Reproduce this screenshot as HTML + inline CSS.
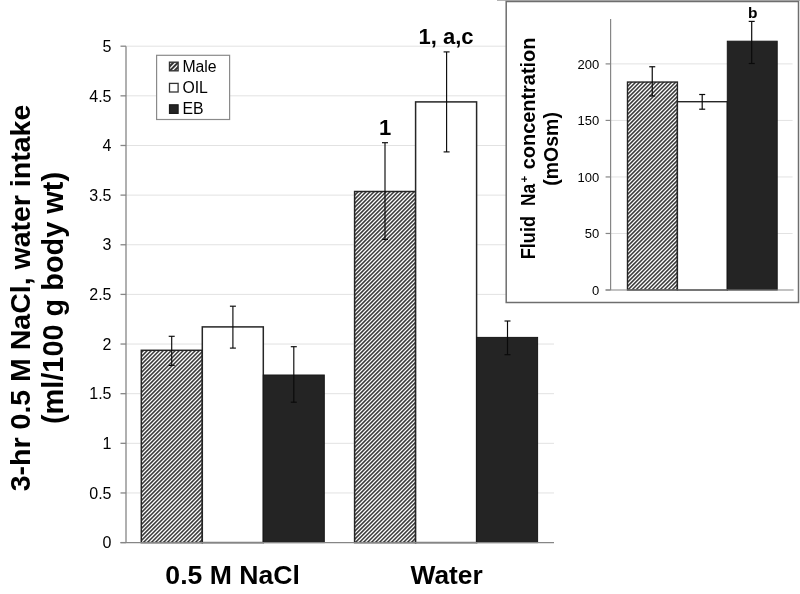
<!DOCTYPE html>
<html><head><meta charset="utf-8"><style>
html,body{margin:0;padding:0;background:#fff;width:800px;height:594px;overflow:hidden}
svg{display:block;filter:blur(0.35px)}
text{font-family:"Liberation Sans",sans-serif;fill:#000;white-space:pre}
</style></head><body>
<svg width="800" height="594" viewBox="0 0 800 594">
<defs><clipPath id="c0"><rect x="141.30" y="350.30" width="61.00" height="192.30"/></clipPath><clipPath id="c1"><rect x="354.60" y="191.50" width="61.00" height="351.10"/></clipPath><clipPath id="lm"><rect x="169.5" y="62.2" width="8.6" height="8.6"/></clipPath><clipPath id="c3"><rect x="627.50" y="82.05" width="49.90" height="207.95"/></clipPath></defs>
<line x1="126.0" y1="492.96" x2="554.0" y2="492.96" stroke="#e2e2e2" stroke-width="1"/>
<line x1="126.0" y1="443.32" x2="554.0" y2="443.32" stroke="#e2e2e2" stroke-width="1"/>
<line x1="126.0" y1="393.68" x2="554.0" y2="393.68" stroke="#e2e2e2" stroke-width="1"/>
<line x1="126.0" y1="344.04" x2="554.0" y2="344.04" stroke="#e2e2e2" stroke-width="1"/>
<line x1="126.0" y1="294.40" x2="554.0" y2="294.40" stroke="#e2e2e2" stroke-width="1"/>
<line x1="126.0" y1="244.76" x2="554.0" y2="244.76" stroke="#e2e2e2" stroke-width="1"/>
<line x1="126.0" y1="195.12" x2="554.0" y2="195.12" stroke="#e2e2e2" stroke-width="1"/>
<line x1="126.0" y1="145.48" x2="554.0" y2="145.48" stroke="#e2e2e2" stroke-width="1"/>
<line x1="126.0" y1="95.84" x2="554.0" y2="95.84" stroke="#e2e2e2" stroke-width="1"/>
<line x1="126.0" y1="46.20" x2="554.0" y2="46.20" stroke="#e2e2e2" stroke-width="1"/>
<rect x="141.30" y="350.30" width="61.00" height="192.30" fill="#fff"/><g clip-path="url(#c0)" stroke="#3c3c3c" stroke-width="1.5"><line x1="-54.70" y1="544.60" x2="141.60" y2="348.30"/><line x1="-50.70" y1="544.60" x2="145.60" y2="348.30"/><line x1="-46.70" y1="544.60" x2="149.60" y2="348.30"/><line x1="-42.70" y1="544.60" x2="153.60" y2="348.30"/><line x1="-38.70" y1="544.60" x2="157.60" y2="348.30"/><line x1="-34.70" y1="544.60" x2="161.60" y2="348.30"/><line x1="-30.70" y1="544.60" x2="165.60" y2="348.30"/><line x1="-26.70" y1="544.60" x2="169.60" y2="348.30"/><line x1="-22.70" y1="544.60" x2="173.60" y2="348.30"/><line x1="-18.70" y1="544.60" x2="177.60" y2="348.30"/><line x1="-14.70" y1="544.60" x2="181.60" y2="348.30"/><line x1="-10.70" y1="544.60" x2="185.60" y2="348.30"/><line x1="-6.70" y1="544.60" x2="189.60" y2="348.30"/><line x1="-2.70" y1="544.60" x2="193.60" y2="348.30"/><line x1="1.30" y1="544.60" x2="197.60" y2="348.30"/><line x1="5.30" y1="544.60" x2="201.60" y2="348.30"/><line x1="9.30" y1="544.60" x2="205.60" y2="348.30"/><line x1="13.30" y1="544.60" x2="209.60" y2="348.30"/><line x1="17.30" y1="544.60" x2="213.60" y2="348.30"/><line x1="21.30" y1="544.60" x2="217.60" y2="348.30"/><line x1="25.30" y1="544.60" x2="221.60" y2="348.30"/><line x1="29.30" y1="544.60" x2="225.60" y2="348.30"/><line x1="33.30" y1="544.60" x2="229.60" y2="348.30"/><line x1="37.30" y1="544.60" x2="233.60" y2="348.30"/><line x1="41.30" y1="544.60" x2="237.60" y2="348.30"/><line x1="45.30" y1="544.60" x2="241.60" y2="348.30"/><line x1="49.30" y1="544.60" x2="245.60" y2="348.30"/><line x1="53.30" y1="544.60" x2="249.60" y2="348.30"/><line x1="57.30" y1="544.60" x2="253.60" y2="348.30"/><line x1="61.30" y1="544.60" x2="257.60" y2="348.30"/><line x1="65.30" y1="544.60" x2="261.60" y2="348.30"/><line x1="69.30" y1="544.60" x2="265.60" y2="348.30"/><line x1="73.30" y1="544.60" x2="269.60" y2="348.30"/><line x1="77.30" y1="544.60" x2="273.60" y2="348.30"/><line x1="81.30" y1="544.60" x2="277.60" y2="348.30"/><line x1="85.30" y1="544.60" x2="281.60" y2="348.30"/><line x1="89.30" y1="544.60" x2="285.60" y2="348.30"/><line x1="93.30" y1="544.60" x2="289.60" y2="348.30"/><line x1="97.30" y1="544.60" x2="293.60" y2="348.30"/><line x1="101.30" y1="544.60" x2="297.60" y2="348.30"/><line x1="105.30" y1="544.60" x2="301.60" y2="348.30"/><line x1="109.30" y1="544.60" x2="305.60" y2="348.30"/><line x1="113.30" y1="544.60" x2="309.60" y2="348.30"/><line x1="117.30" y1="544.60" x2="313.60" y2="348.30"/><line x1="121.30" y1="544.60" x2="317.60" y2="348.30"/><line x1="125.30" y1="544.60" x2="321.60" y2="348.30"/><line x1="129.30" y1="544.60" x2="325.60" y2="348.30"/><line x1="133.30" y1="544.60" x2="329.60" y2="348.30"/><line x1="137.30" y1="544.60" x2="333.60" y2="348.30"/><line x1="141.30" y1="544.60" x2="337.60" y2="348.30"/><line x1="145.30" y1="544.60" x2="341.60" y2="348.30"/><line x1="149.30" y1="544.60" x2="345.60" y2="348.30"/><line x1="153.30" y1="544.60" x2="349.60" y2="348.30"/><line x1="157.30" y1="544.60" x2="353.60" y2="348.30"/><line x1="161.30" y1="544.60" x2="357.60" y2="348.30"/><line x1="165.30" y1="544.60" x2="361.60" y2="348.30"/><line x1="169.30" y1="544.60" x2="365.60" y2="348.30"/><line x1="173.30" y1="544.60" x2="369.60" y2="348.30"/><line x1="177.30" y1="544.60" x2="373.60" y2="348.30"/><line x1="181.30" y1="544.60" x2="377.60" y2="348.30"/><line x1="185.30" y1="544.60" x2="381.60" y2="348.30"/><line x1="189.30" y1="544.60" x2="385.60" y2="348.30"/><line x1="193.30" y1="544.60" x2="389.60" y2="348.30"/><line x1="197.30" y1="544.60" x2="393.60" y2="348.30"/><line x1="201.30" y1="544.60" x2="397.60" y2="348.30"/></g><rect x="141.30" y="350.30" width="61.00" height="192.30" fill="none" stroke="#262626" stroke-width="1.5"/>
<rect x="202.30" y="326.90" width="61.00" height="215.70" fill="#fff" stroke="#262626" stroke-width="1.5"/>
<rect x="263.30" y="375.00" width="61.00" height="167.60" fill="#242424" stroke="#181818" stroke-width="1"/>
<rect x="354.60" y="191.50" width="61.00" height="351.10" fill="#fff"/><g clip-path="url(#c1)" stroke="#3c3c3c" stroke-width="1.5"><line x1="1.30" y1="544.60" x2="356.40" y2="189.50"/><line x1="5.30" y1="544.60" x2="360.40" y2="189.50"/><line x1="9.30" y1="544.60" x2="364.40" y2="189.50"/><line x1="13.30" y1="544.60" x2="368.40" y2="189.50"/><line x1="17.30" y1="544.60" x2="372.40" y2="189.50"/><line x1="21.30" y1="544.60" x2="376.40" y2="189.50"/><line x1="25.30" y1="544.60" x2="380.40" y2="189.50"/><line x1="29.30" y1="544.60" x2="384.40" y2="189.50"/><line x1="33.30" y1="544.60" x2="388.40" y2="189.50"/><line x1="37.30" y1="544.60" x2="392.40" y2="189.50"/><line x1="41.30" y1="544.60" x2="396.40" y2="189.50"/><line x1="45.30" y1="544.60" x2="400.40" y2="189.50"/><line x1="49.30" y1="544.60" x2="404.40" y2="189.50"/><line x1="53.30" y1="544.60" x2="408.40" y2="189.50"/><line x1="57.30" y1="544.60" x2="412.40" y2="189.50"/><line x1="61.30" y1="544.60" x2="416.40" y2="189.50"/><line x1="65.30" y1="544.60" x2="420.40" y2="189.50"/><line x1="69.30" y1="544.60" x2="424.40" y2="189.50"/><line x1="73.30" y1="544.60" x2="428.40" y2="189.50"/><line x1="77.30" y1="544.60" x2="432.40" y2="189.50"/><line x1="81.30" y1="544.60" x2="436.40" y2="189.50"/><line x1="85.30" y1="544.60" x2="440.40" y2="189.50"/><line x1="89.30" y1="544.60" x2="444.40" y2="189.50"/><line x1="93.30" y1="544.60" x2="448.40" y2="189.50"/><line x1="97.30" y1="544.60" x2="452.40" y2="189.50"/><line x1="101.30" y1="544.60" x2="456.40" y2="189.50"/><line x1="105.30" y1="544.60" x2="460.40" y2="189.50"/><line x1="109.30" y1="544.60" x2="464.40" y2="189.50"/><line x1="113.30" y1="544.60" x2="468.40" y2="189.50"/><line x1="117.30" y1="544.60" x2="472.40" y2="189.50"/><line x1="121.30" y1="544.60" x2="476.40" y2="189.50"/><line x1="125.30" y1="544.60" x2="480.40" y2="189.50"/><line x1="129.30" y1="544.60" x2="484.40" y2="189.50"/><line x1="133.30" y1="544.60" x2="488.40" y2="189.50"/><line x1="137.30" y1="544.60" x2="492.40" y2="189.50"/><line x1="141.30" y1="544.60" x2="496.40" y2="189.50"/><line x1="145.30" y1="544.60" x2="500.40" y2="189.50"/><line x1="149.30" y1="544.60" x2="504.40" y2="189.50"/><line x1="153.30" y1="544.60" x2="508.40" y2="189.50"/><line x1="157.30" y1="544.60" x2="512.40" y2="189.50"/><line x1="161.30" y1="544.60" x2="516.40" y2="189.50"/><line x1="165.30" y1="544.60" x2="520.40" y2="189.50"/><line x1="169.30" y1="544.60" x2="524.40" y2="189.50"/><line x1="173.30" y1="544.60" x2="528.40" y2="189.50"/><line x1="177.30" y1="544.60" x2="532.40" y2="189.50"/><line x1="181.30" y1="544.60" x2="536.40" y2="189.50"/><line x1="185.30" y1="544.60" x2="540.40" y2="189.50"/><line x1="189.30" y1="544.60" x2="544.40" y2="189.50"/><line x1="193.30" y1="544.60" x2="548.40" y2="189.50"/><line x1="197.30" y1="544.60" x2="552.40" y2="189.50"/><line x1="201.30" y1="544.60" x2="556.40" y2="189.50"/><line x1="205.30" y1="544.60" x2="560.40" y2="189.50"/><line x1="209.30" y1="544.60" x2="564.40" y2="189.50"/><line x1="213.30" y1="544.60" x2="568.40" y2="189.50"/><line x1="217.30" y1="544.60" x2="572.40" y2="189.50"/><line x1="221.30" y1="544.60" x2="576.40" y2="189.50"/><line x1="225.30" y1="544.60" x2="580.40" y2="189.50"/><line x1="229.30" y1="544.60" x2="584.40" y2="189.50"/><line x1="233.30" y1="544.60" x2="588.40" y2="189.50"/><line x1="237.30" y1="544.60" x2="592.40" y2="189.50"/><line x1="241.30" y1="544.60" x2="596.40" y2="189.50"/><line x1="245.30" y1="544.60" x2="600.40" y2="189.50"/><line x1="249.30" y1="544.60" x2="604.40" y2="189.50"/><line x1="253.30" y1="544.60" x2="608.40" y2="189.50"/><line x1="257.30" y1="544.60" x2="612.40" y2="189.50"/><line x1="261.30" y1="544.60" x2="616.40" y2="189.50"/><line x1="265.30" y1="544.60" x2="620.40" y2="189.50"/><line x1="269.30" y1="544.60" x2="624.40" y2="189.50"/><line x1="273.30" y1="544.60" x2="628.40" y2="189.50"/><line x1="277.30" y1="544.60" x2="632.40" y2="189.50"/><line x1="281.30" y1="544.60" x2="636.40" y2="189.50"/><line x1="285.30" y1="544.60" x2="640.40" y2="189.50"/><line x1="289.30" y1="544.60" x2="644.40" y2="189.50"/><line x1="293.30" y1="544.60" x2="648.40" y2="189.50"/><line x1="297.30" y1="544.60" x2="652.40" y2="189.50"/><line x1="301.30" y1="544.60" x2="656.40" y2="189.50"/><line x1="305.30" y1="544.60" x2="660.40" y2="189.50"/><line x1="309.30" y1="544.60" x2="664.40" y2="189.50"/><line x1="313.30" y1="544.60" x2="668.40" y2="189.50"/><line x1="317.30" y1="544.60" x2="672.40" y2="189.50"/><line x1="321.30" y1="544.60" x2="676.40" y2="189.50"/><line x1="325.30" y1="544.60" x2="680.40" y2="189.50"/><line x1="329.30" y1="544.60" x2="684.40" y2="189.50"/><line x1="333.30" y1="544.60" x2="688.40" y2="189.50"/><line x1="337.30" y1="544.60" x2="692.40" y2="189.50"/><line x1="341.30" y1="544.60" x2="696.40" y2="189.50"/><line x1="345.30" y1="544.60" x2="700.40" y2="189.50"/><line x1="349.30" y1="544.60" x2="704.40" y2="189.50"/><line x1="353.30" y1="544.60" x2="708.40" y2="189.50"/><line x1="357.30" y1="544.60" x2="712.40" y2="189.50"/><line x1="361.30" y1="544.60" x2="716.40" y2="189.50"/><line x1="365.30" y1="544.60" x2="720.40" y2="189.50"/><line x1="369.30" y1="544.60" x2="724.40" y2="189.50"/><line x1="373.30" y1="544.60" x2="728.40" y2="189.50"/><line x1="377.30" y1="544.60" x2="732.40" y2="189.50"/><line x1="381.30" y1="544.60" x2="736.40" y2="189.50"/><line x1="385.30" y1="544.60" x2="740.40" y2="189.50"/><line x1="389.30" y1="544.60" x2="744.40" y2="189.50"/><line x1="393.30" y1="544.60" x2="748.40" y2="189.50"/><line x1="397.30" y1="544.60" x2="752.40" y2="189.50"/><line x1="401.30" y1="544.60" x2="756.40" y2="189.50"/><line x1="405.30" y1="544.60" x2="760.40" y2="189.50"/><line x1="409.30" y1="544.60" x2="764.40" y2="189.50"/><line x1="413.30" y1="544.60" x2="768.40" y2="189.50"/><line x1="417.30" y1="544.60" x2="772.40" y2="189.50"/></g><rect x="354.60" y="191.50" width="61.00" height="351.10" fill="none" stroke="#262626" stroke-width="1.5"/>
<rect x="415.60" y="101.90" width="61.00" height="440.70" fill="#fff" stroke="#262626" stroke-width="1.5"/>
<rect x="476.60" y="337.40" width="61.00" height="205.20" fill="#242424" stroke="#181818" stroke-width="1"/>
<line x1="126.0" y1="46.20" x2="126.0" y2="542.6" stroke="#868686" stroke-width="1.3"/>
<line x1="120.5" y1="542.6" x2="554.0" y2="542.6" stroke="#868686" stroke-width="1.3"/>
<line x1="120.5" y1="542.60" x2="126.0" y2="542.60" stroke="#868686" stroke-width="1.3"/>
<text x="111.5" y="548.30" text-anchor="end" font-size="16" fill="#111">0</text>
<line x1="120.5" y1="492.96" x2="126.0" y2="492.96" stroke="#868686" stroke-width="1.3"/>
<text x="111.5" y="498.66" text-anchor="end" font-size="16" fill="#111">0.5</text>
<line x1="120.5" y1="443.32" x2="126.0" y2="443.32" stroke="#868686" stroke-width="1.3"/>
<text x="111.5" y="449.02" text-anchor="end" font-size="16" fill="#111">1</text>
<line x1="120.5" y1="393.68" x2="126.0" y2="393.68" stroke="#868686" stroke-width="1.3"/>
<text x="111.5" y="399.38" text-anchor="end" font-size="16" fill="#111">1.5</text>
<line x1="120.5" y1="344.04" x2="126.0" y2="344.04" stroke="#868686" stroke-width="1.3"/>
<text x="111.5" y="349.74" text-anchor="end" font-size="16" fill="#111">2</text>
<line x1="120.5" y1="294.40" x2="126.0" y2="294.40" stroke="#868686" stroke-width="1.3"/>
<text x="111.5" y="300.10" text-anchor="end" font-size="16" fill="#111">2.5</text>
<line x1="120.5" y1="244.76" x2="126.0" y2="244.76" stroke="#868686" stroke-width="1.3"/>
<text x="111.5" y="250.46" text-anchor="end" font-size="16" fill="#111">3</text>
<line x1="120.5" y1="195.12" x2="126.0" y2="195.12" stroke="#868686" stroke-width="1.3"/>
<text x="111.5" y="200.82" text-anchor="end" font-size="16" fill="#111">3.5</text>
<line x1="120.5" y1="145.48" x2="126.0" y2="145.48" stroke="#868686" stroke-width="1.3"/>
<text x="111.5" y="151.18" text-anchor="end" font-size="16" fill="#111">4</text>
<line x1="120.5" y1="95.84" x2="126.0" y2="95.84" stroke="#868686" stroke-width="1.3"/>
<text x="111.5" y="101.54" text-anchor="end" font-size="16" fill="#111">4.5</text>
<line x1="120.5" y1="46.20" x2="126.0" y2="46.20" stroke="#868686" stroke-width="1.3"/>
<text x="111.5" y="51.90" text-anchor="end" font-size="16" fill="#111">5</text>
<g stroke="#0a0a0a" stroke-width="1.15"><line x1="171.7" y1="336.3" x2="171.7" y2="365.4"/><line x1="168.7" y1="336.3" x2="174.7" y2="336.3"/><line x1="168.7" y1="365.4" x2="174.7" y2="365.4"/></g>
<g stroke="#0a0a0a" stroke-width="1.15"><line x1="232.9" y1="306.2" x2="232.9" y2="348.1"/><line x1="229.9" y1="306.2" x2="235.9" y2="306.2"/><line x1="229.9" y1="348.1" x2="235.9" y2="348.1"/></g>
<g stroke="#0a0a0a" stroke-width="1.15"><line x1="293.8" y1="346.7" x2="293.8" y2="402.2"/><line x1="290.8" y1="346.7" x2="296.8" y2="346.7"/><line x1="290.8" y1="402.2" x2="296.8" y2="402.2"/></g>
<g stroke="#0a0a0a" stroke-width="1.15"><line x1="385.0" y1="142.7" x2="385.0" y2="239.4"/><line x1="382.0" y1="142.7" x2="388.0" y2="142.7"/><line x1="382.0" y1="239.4" x2="388.0" y2="239.4"/></g>
<g stroke="#0a0a0a" stroke-width="1.15"><line x1="446.6" y1="51.9" x2="446.6" y2="151.9"/><line x1="443.6" y1="51.9" x2="449.6" y2="51.9"/><line x1="443.6" y1="151.9" x2="449.6" y2="151.9"/></g>
<g stroke="#0a0a0a" stroke-width="1.15"><line x1="507.5" y1="321.0" x2="507.5" y2="354.7"/><line x1="504.5" y1="321.0" x2="510.5" y2="321.0"/><line x1="504.5" y1="354.7" x2="510.5" y2="354.7"/></g>
<text x="385" y="135.3" text-anchor="middle" font-size="22" font-weight="bold">1</text>
<text x="446.1" y="44.3" text-anchor="middle" font-size="22" font-weight="bold">1, a,c</text>
<rect x="156.6" y="55.3" width="73" height="64.2" fill="#fff" stroke="#8a8a8a" stroke-width="1.2"/>
<rect x="169.5" y="62.2" width="8.6" height="8.6" fill="#fff"/>
<g clip-path="url(#lm)" stroke="#333" stroke-width="2.0"><line x1="158.60" y1="72.80" x2="171.20" y2="60.20"/><line x1="163.20" y1="72.80" x2="175.80" y2="60.20"/><line x1="167.80" y1="72.80" x2="180.40" y2="60.20"/><line x1="172.40" y1="72.80" x2="185.00" y2="60.20"/><line x1="177.00" y1="72.80" x2="189.60" y2="60.20"/></g>
<rect x="169.5" y="62.2" width="8.6" height="8.6" fill="none" stroke="#333" stroke-width="1.4"/>
<rect x="169.5" y="83.4" width="8.6" height="8.6" fill="#fff" stroke="#333" stroke-width="1.3"/>
<rect x="169.5" y="104.8" width="8.6" height="8.6" fill="#242424" stroke="#1a1a1a" stroke-width="1.2"/>
<text x="182.4" y="71.5" font-size="15.8" fill="#1a1a1a">Male</text>
<text x="182.4" y="92.7" font-size="15.8" fill="#1a1a1a">OIL</text>
<text x="182.4" y="113.8" font-size="15.8" fill="#1a1a1a">EB</text>
<text x="232.6" y="584" text-anchor="middle" font-size="26.6" font-weight="bold">0.5 M NaCl</text>
<text x="446.6" y="583.8" text-anchor="middle" font-size="26.3" font-weight="bold">Water</text>
<g transform="translate(30.3,298) rotate(-90)"><text x="0" y="0" text-anchor="middle" font-size="28.5" font-weight="bold">3-hr 0.5 M NaCl, water intake</text></g>
<g transform="translate(63.1,298) rotate(-90)"><text x="0" y="0" text-anchor="middle" font-size="28.9" font-weight="bold">(ml/100 g body wt)</text></g>
<rect x="497" y="0" width="303" height="1" fill="#b4b4b4"/>
<rect x="506.2" y="1.5" width="292.3" height="301.0" fill="#fff" stroke="#6e6e6e" stroke-width="1.5"/>
<line x1="610.6" y1="233.47" x2="792.6" y2="233.47" stroke="#e2e2e2" stroke-width="1"/>
<line x1="610.6" y1="176.95" x2="792.6" y2="176.95" stroke="#e2e2e2" stroke-width="1"/>
<line x1="610.6" y1="120.42" x2="792.6" y2="120.42" stroke="#e2e2e2" stroke-width="1"/>
<line x1="610.6" y1="63.90" x2="792.6" y2="63.90" stroke="#e2e2e2" stroke-width="1"/>
<rect x="627.50" y="82.05" width="49.90" height="207.95" fill="#fff"/><g clip-path="url(#c3)" stroke="#3c3c3c" stroke-width="1.5"><line x1="413.90" y1="292.00" x2="625.85" y2="80.05"/><line x1="417.90" y1="292.00" x2="629.85" y2="80.05"/><line x1="421.90" y1="292.00" x2="633.85" y2="80.05"/><line x1="425.90" y1="292.00" x2="637.85" y2="80.05"/><line x1="429.90" y1="292.00" x2="641.85" y2="80.05"/><line x1="433.90" y1="292.00" x2="645.85" y2="80.05"/><line x1="437.90" y1="292.00" x2="649.85" y2="80.05"/><line x1="441.90" y1="292.00" x2="653.85" y2="80.05"/><line x1="445.90" y1="292.00" x2="657.85" y2="80.05"/><line x1="449.90" y1="292.00" x2="661.85" y2="80.05"/><line x1="453.90" y1="292.00" x2="665.85" y2="80.05"/><line x1="457.90" y1="292.00" x2="669.85" y2="80.05"/><line x1="461.90" y1="292.00" x2="673.85" y2="80.05"/><line x1="465.90" y1="292.00" x2="677.85" y2="80.05"/><line x1="469.90" y1="292.00" x2="681.85" y2="80.05"/><line x1="473.90" y1="292.00" x2="685.85" y2="80.05"/><line x1="477.90" y1="292.00" x2="689.85" y2="80.05"/><line x1="481.90" y1="292.00" x2="693.85" y2="80.05"/><line x1="485.90" y1="292.00" x2="697.85" y2="80.05"/><line x1="489.90" y1="292.00" x2="701.85" y2="80.05"/><line x1="493.90" y1="292.00" x2="705.85" y2="80.05"/><line x1="497.90" y1="292.00" x2="709.85" y2="80.05"/><line x1="501.90" y1="292.00" x2="713.85" y2="80.05"/><line x1="505.90" y1="292.00" x2="717.85" y2="80.05"/><line x1="509.90" y1="292.00" x2="721.85" y2="80.05"/><line x1="513.90" y1="292.00" x2="725.85" y2="80.05"/><line x1="517.90" y1="292.00" x2="729.85" y2="80.05"/><line x1="521.90" y1="292.00" x2="733.85" y2="80.05"/><line x1="525.90" y1="292.00" x2="737.85" y2="80.05"/><line x1="529.90" y1="292.00" x2="741.85" y2="80.05"/><line x1="533.90" y1="292.00" x2="745.85" y2="80.05"/><line x1="537.90" y1="292.00" x2="749.85" y2="80.05"/><line x1="541.90" y1="292.00" x2="753.85" y2="80.05"/><line x1="545.90" y1="292.00" x2="757.85" y2="80.05"/><line x1="549.90" y1="292.00" x2="761.85" y2="80.05"/><line x1="553.90" y1="292.00" x2="765.85" y2="80.05"/><line x1="557.90" y1="292.00" x2="769.85" y2="80.05"/><line x1="561.90" y1="292.00" x2="773.85" y2="80.05"/><line x1="565.90" y1="292.00" x2="777.85" y2="80.05"/><line x1="569.90" y1="292.00" x2="781.85" y2="80.05"/><line x1="573.90" y1="292.00" x2="785.85" y2="80.05"/><line x1="577.90" y1="292.00" x2="789.85" y2="80.05"/><line x1="581.90" y1="292.00" x2="793.85" y2="80.05"/><line x1="585.90" y1="292.00" x2="797.85" y2="80.05"/><line x1="589.90" y1="292.00" x2="801.85" y2="80.05"/><line x1="593.90" y1="292.00" x2="805.85" y2="80.05"/><line x1="597.90" y1="292.00" x2="809.85" y2="80.05"/><line x1="601.90" y1="292.00" x2="813.85" y2="80.05"/><line x1="605.90" y1="292.00" x2="817.85" y2="80.05"/><line x1="609.90" y1="292.00" x2="821.85" y2="80.05"/><line x1="613.90" y1="292.00" x2="825.85" y2="80.05"/><line x1="617.90" y1="292.00" x2="829.85" y2="80.05"/><line x1="621.90" y1="292.00" x2="833.85" y2="80.05"/><line x1="625.90" y1="292.00" x2="837.85" y2="80.05"/><line x1="629.90" y1="292.00" x2="841.85" y2="80.05"/><line x1="633.90" y1="292.00" x2="845.85" y2="80.05"/><line x1="637.90" y1="292.00" x2="849.85" y2="80.05"/><line x1="641.90" y1="292.00" x2="853.85" y2="80.05"/><line x1="645.90" y1="292.00" x2="857.85" y2="80.05"/><line x1="649.90" y1="292.00" x2="861.85" y2="80.05"/><line x1="653.90" y1="292.00" x2="865.85" y2="80.05"/><line x1="657.90" y1="292.00" x2="869.85" y2="80.05"/><line x1="661.90" y1="292.00" x2="873.85" y2="80.05"/><line x1="665.90" y1="292.00" x2="877.85" y2="80.05"/><line x1="669.90" y1="292.00" x2="881.85" y2="80.05"/><line x1="673.90" y1="292.00" x2="885.85" y2="80.05"/><line x1="677.90" y1="292.00" x2="889.85" y2="80.05"/></g><rect x="627.50" y="82.05" width="49.90" height="207.95" fill="none" stroke="#262626" stroke-width="1.4"/>
<rect x="677.40" y="101.70" width="49.90" height="188.30" fill="#fff" stroke="#262626" stroke-width="1.4"/>
<rect x="727.30" y="41.20" width="49.90" height="248.80" fill="#242424" stroke="#181818" stroke-width="1"/>
<line x1="610.6" y1="18.9" x2="610.6" y2="290.0" stroke="#868686" stroke-width="1.2"/>
<line x1="605.6" y1="290.0" x2="793.6" y2="290.0" stroke="#868686" stroke-width="1.2"/>
<line x1="605.6" y1="290.00" x2="610.6" y2="290.00" stroke="#868686" stroke-width="1.2"/>
<text x="599.2" y="294.80" text-anchor="end" font-size="13" fill="#1a1a1a">0</text>
<line x1="605.6" y1="233.47" x2="610.6" y2="233.47" stroke="#868686" stroke-width="1.2"/>
<text x="599.2" y="238.28" text-anchor="end" font-size="13" fill="#1a1a1a">50</text>
<line x1="605.6" y1="176.95" x2="610.6" y2="176.95" stroke="#868686" stroke-width="1.2"/>
<text x="599.2" y="181.75" text-anchor="end" font-size="13" fill="#1a1a1a">100</text>
<line x1="605.6" y1="120.42" x2="610.6" y2="120.42" stroke="#868686" stroke-width="1.2"/>
<text x="599.2" y="125.22" text-anchor="end" font-size="13" fill="#1a1a1a">150</text>
<line x1="605.6" y1="63.90" x2="610.6" y2="63.90" stroke="#868686" stroke-width="1.2"/>
<text x="599.2" y="68.70" text-anchor="end" font-size="13" fill="#1a1a1a">200</text>
<g stroke="#0a0a0a" stroke-width="1.2"><line x1="652.25" y1="66.75" x2="652.25" y2="96.0"/><line x1="649.25" y1="66.75" x2="655.25" y2="66.75"/><line x1="649.25" y1="96.0" x2="655.25" y2="96.0"/></g>
<g stroke="#0a0a0a" stroke-width="1.2"><line x1="702.2" y1="94.5" x2="702.2" y2="109.2"/><line x1="699.2" y1="94.5" x2="705.2" y2="94.5"/><line x1="699.2" y1="109.2" x2="705.2" y2="109.2"/></g>
<g stroke="#0a0a0a" stroke-width="1.2"><line x1="751.7" y1="21.4" x2="751.7" y2="63.5"/><line x1="748.7" y1="21.4" x2="754.7" y2="21.4"/><line x1="748.7" y1="63.5" x2="754.7" y2="63.5"/></g>
<text x="752.8" y="17.7" text-anchor="middle" font-size="15.5" font-weight="bold">b</text>
<g transform="translate(535.3,259.2) rotate(-90)"><text x="0" y="0" font-size="19.5" font-weight="bold" textLength="43.20" lengthAdjust="spacingAndGlyphs">Fluid</text></g>
<g transform="translate(535.3,206.0) rotate(-90)"><text x="0" y="0" font-size="19.5" font-weight="bold" textLength="22.00" lengthAdjust="spacingAndGlyphs">Na</text></g>
<g transform="translate(528.4,182.4) rotate(-90)"><text x="0" y="0" font-size="11.5" font-weight="bold">+</text></g>
<g transform="translate(535.3,169.2) rotate(-90)"><text x="0" y="0" font-size="19.5" font-weight="bold" textLength="131.60" lengthAdjust="spacingAndGlyphs">concentration</text></g>
<g transform="translate(557.5,148.9) rotate(-90)"><text x="0" y="0" text-anchor="middle" font-size="19.5" font-weight="bold">(mOsm)</text></g>
</svg>
</body></html>
